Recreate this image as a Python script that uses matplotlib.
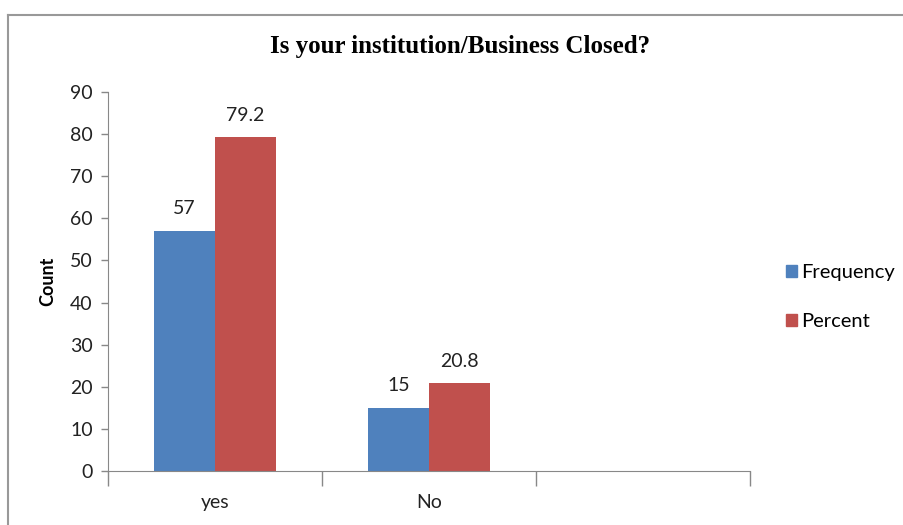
import matplotlib.pyplot as plt
import numpy as np
from matplotlib.lines import Line2D
from matplotlib.patches import Patch

categories = ['yes', 'No', '']
frequency = [57, 15, None]
percent = [79.2, 20.8, None]
freq_labels = ['57', '15']
pct_labels = ['79.2', '20.8']

blue = '#4F81BD'
red = '#C0504D'
axis_col = '#888888'
tick_font = 'Lato'

fig = plt.figure(figsize=(9.04, 5.25), dpi=100)
ax = fig.add_axes([108/904, 54/525, 642/904, 379/525])

x = np.arange(len(categories))
w = 0.285
n = 2
f_vals = [v for v in frequency if v is not None]
p_vals = [v for v in percent if v is not None]
b1 = ax.bar(x[:n] - w/2, f_vals, width=w, color=blue)
b2 = ax.bar(x[:n] + w/2, p_vals, width=w, color=red)

for bars, labels in [(b1, freq_labels), (b2, pct_labels)]:
    for bar, lab in zip(bars, labels):
        ax.annotate(lab, (bar.get_x() + bar.get_width()/2, bar.get_height()),
                    xytext=(0, 10), textcoords='offset points', ha='center', va='bottom',
                    fontsize=14, family=tick_font, color='#222222')

ax.set_xlim(-0.5, 2.5)
ax.set_ylim(0, 90)
ax.set_yticks(range(0, 91, 10))
ax.tick_params(axis='y', labelsize=14, colors=axis_col, labelcolor='#222222', length=5, width=1, pad=6)
for t in ax.get_yticklabels():
    t.set_family(tick_font)

# category labels in the middle, tick marks at boundaries
ax.set_xticks([-0.5, 0.5, 1.5, 2.5])
ax.set_xticklabels([])
ax.tick_params(axis='x', length=11, colors=axis_col, width=1)
for xi, lab in zip(x, categories):
    ax.text(xi, -0.06, lab, transform=ax.get_xaxis_transform(), ha='center', va='top',
            fontsize=14, family=tick_font, color='#222222')

for s in ['top', 'right']:
    ax.spines[s].set_visible(False)
for s in ['left', 'bottom']:
    ax.spines[s].set_color(axis_col)

ax.set_ylabel('Count', fontsize=13, fontweight='bold', family=tick_font, labelpad=10)

fig.text(460/904, 1 - 47/525, 'Is your institution/Business Closed?', ha='center', va='center',
         fontsize=18, fontweight='bold', family='Liberation Serif')

handles = [Patch(color=blue), Patch(color=red)]
fig.legend(handles, ['Frequency', 'Percent'], loc='center left', bbox_to_anchor=(768/904, 1 - 297/525),
           frameon=False, prop={'family': tick_font, 'size': 14.5},
           handlelength=0.55, handleheight=0.55, handletextpad=0.2, labelspacing=1.6)

# outer chart frame
fig.add_artist(Line2D([8/904, 8/904], [0, 1 - 15/525], transform=fig.transFigure, color='#999999', lw=1.5))
fig.add_artist(Line2D([8/904, 1], [1 - 15/525, 1 - 15/525], transform=fig.transFigure, color='#999999', lw=1.5))

fig.savefig('out.png', dpi=100)
